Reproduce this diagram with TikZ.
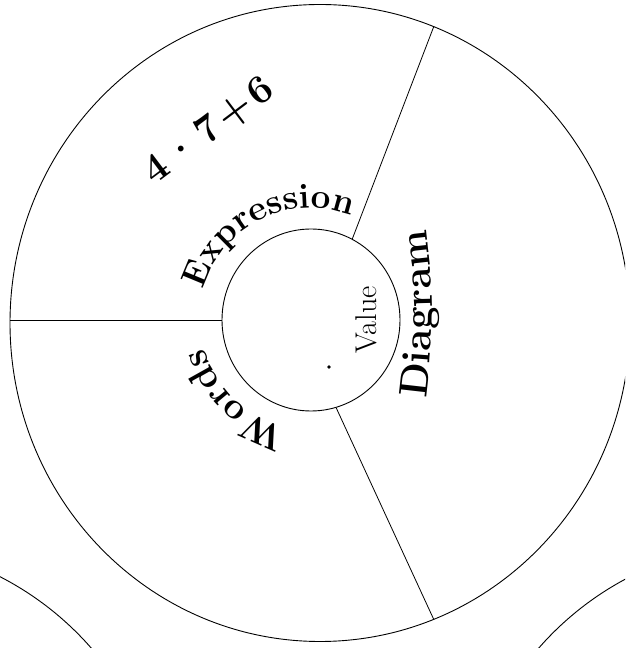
\documentclass[tikz,border=0pt]{standalone}
\usepackage{tikz}
\usetikzlibrary{shapes.geometric}
\usetikzlibrary{decorations.text}
\tikzstyle{wheel} = [ellipse, draw, inner sep=0pt, line width=0.9pt]
\tikzstyle{spoke} = [line width=0.8pt]
\tikzstyle{rim} = [decorate, decoration={text along path, text align=center}]

\begin{document}
\begin{tikzpicture}
	[x=1pt, y=1pt,
	every node/.style={inner sep=0pt},
	font=\bfseries
	]
	\useasboundingbox (0,0) rectangle (625,648);
	\clip (0,0) rectangle (625,648);
	\draw (320,325) node[wheel, minimum width=620pt, minimum height=637pt](outer){};
	\draw (311,328) node[wheel, minimum width=178pt, minimum height=182pt](inner){};
	\draw (-140,-202) node[wheel, minimum width=614pt, minimum height=614pt](leftwheel){};
	\draw (770,-202) node[wheel, minimum width=614pt, minimum height=614pt](rightwheel){};
	\draw[spoke] (inner.west) -- (inner.west -| outer.west);
	\foreach \from/\to in {inner.63/outer.69, inner.-74/outer.-69.6}
		\draw[spoke] (\from) -- (\to);
	\draw (209,517) node[rotate=37, font=\bfseries\fontsize{40}{44}\selectfont](sum){4\hspace{0.1em}·\hspace{0.1em}7\hspace{0.1em}+\hspace{0.1em}6};
	\draw (366,328) node[rotate=90, font=\normalfont\fontsize{30}{32}\selectfont](value){Value};
	\draw (329,281) node[circle, fill, inner sep=1.4pt](dot){};
	\path[rim, decoration={text={|\bfseries\fontsize{35}{40}\selectfont|Expression}}] (inner.center) ++(168:112) arc[start angle=168, end angle=65, radius=112];
	\path[rim, decoration={text={|\bfseries\fontsize{37}{40}\selectfont|Words}}] (inner.center) ++(279:110) arc[start angle=279, end angle=173, radius=110];
	\path[rim, decoration={text={|\bfseries\fontsize{40}{44}\selectfont|Diagram}}] (-168,334) ++(-10:600) arc[start angle=-10, end angle=10, radius=600];
\end{tikzpicture}
\end{document}
